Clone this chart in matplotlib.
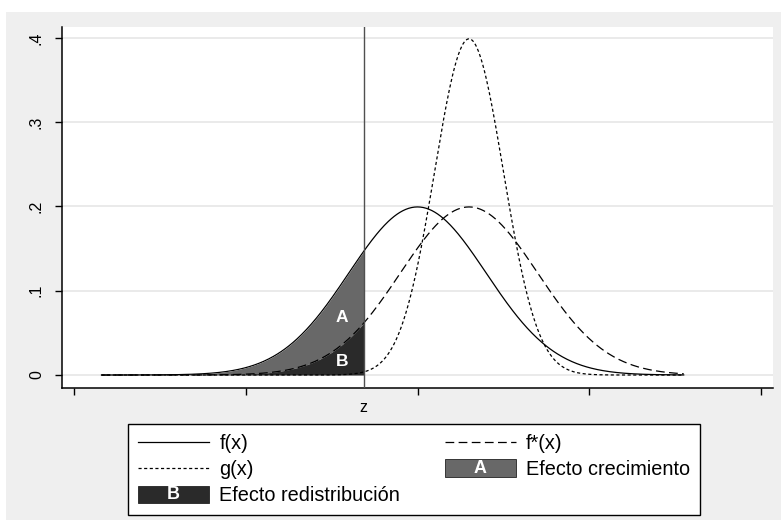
import numpy as np
import matplotlib
matplotlib.use('Agg')
import matplotlib.pyplot as plt
from matplotlib.patches import Rectangle
from matplotlib.text import Text
from matplotlib.lines import Line2D
from matplotlib.legend_handler import HandlerPatch

plt.rcParams['font.family'] = ['Liberation Sans', 'DejaVu Sans']

# ----------- data -----------------------------------------------------------
# normal densities: mean, std.dev.
mu_f, sd_f = 0.0, 2.0        # f(x)
mu_fs, sd_fs = 1.5, 2.0      # f*(x)
mu_g, sd_g = 1.5, 1.0        # g(x)
x_min, x_max = -9.2, 7.75    # plotted range of the curves
z = -1.57                    # poverty line z

x_ticks = [-10, -5, 0, 5, 10]
y_ticks = [0, 0.1, 0.2, 0.3, 0.4]
y_labels = ['0', '.1', '.2', '.3', '.4']

lab_f, lab_fs, lab_g = 'f(x)', 'f*(x)', 'g(x)'
lab_A, lab_B = 'Efecto crecimiento', 'Efecto redistribución'

# colours
c_bg = '#efefef'
c_A = '#686868'
c_B = '#2a2a2a'
c_grid = '#e6e6e6'


def dens(x, mu, sd):
    return np.exp(-0.5*((x - mu)/sd)**2)/(sd*np.sqrt(2*np.pi))


xs = np.linspace(x_min, x_max, 600)
f = dens(xs, mu_f, sd_f)
fs = dens(xs, mu_fs, sd_fs)
g = dens(xs, mu_g, sd_g)
left = xs <= z
xl = np.append(xs[left], z)
fl = np.append(f[left], dens(z, mu_f, sd_f))
fsl = np.append(fs[left], dens(z, mu_fs, sd_fs))


class HandlerLetter(HandlerPatch):
    def __init__(self, letter):
        super().__init__()
        self.letter = letter

    def create_artists(self, legend, orig_handle, xdescent, ydescent,
                       width, height, fontsize, trans):
        p = Rectangle((-xdescent, -ydescent - 1), width, height + 2,
                      facecolor=orig_handle.get_facecolor(),
                      edgecolor='#222222', lw=0.6, transform=trans)
        t = Text(-xdescent + width/2, -ydescent + height/2 - 0.5, self.letter,
                 color='white', ha='center', va='center',
                 fontsize=fontsize*0.9, fontweight='bold', transform=trans)
        return [p, t]


# -------------- Plot Figure -------------------------------------------------
fig = plt.figure(figsize=(7.81, 5.23), dpi=100)
fig.patch.set_facecolor('white')
fig.patches.append(Rectangle((6/781, 3/523), 775/781, 508/523,
                             transform=fig.transFigure, facecolor=c_bg,
                             edgecolor='none', zorder=-10))

ax = fig.add_axes([62/781, 135/523, 711/781, 361/523])
ax.set_facecolor('white')

ls_fs = (0, (7, 3.5))
ls_g = (0, (2.5, 2.0))
lw = 0.9

ax.plot(xs, f, color='black', lw=lw, zorder=2)
ax.fill_between(xl, fsl, fl, color=c_A, lw=0, zorder=3)
ax.fill_between(xl, 0, fsl, color=c_B, lw=0, zorder=3)
ax.plot(xs, fs, color='black', lw=lw, ls=ls_fs, zorder=4)
ax.plot(xs, g, color='black', lw=lw, ls=ls_g, zorder=4)
ax.axvline(z, color='#505050', lw=1.0, zorder=5)

ax.text(-2.2, 0.068, 'A', color='white', fontsize=12.5, fontweight='bold',
        ha='center', va='center', zorder=6)
ax.text(-2.2, 0.016, 'B', color='white', fontsize=12.5, fontweight='bold',
        ha='center', va='center', zorder=6)

ax.set_xlim(-10.35, 10.35)
ax.set_ylim(-0.0154, 0.413)
ax.set_yticks(y_ticks)
ax.set_yticklabels(y_labels, rotation=90, va='center', fontsize=11.5)
ax.set_xticks(x_ticks)
ax.set_xticklabels([])
ax.set_xticks([z], labels=['z'], minor=True)
ax.tick_params(axis='x', which='minor', length=0, pad=9, labelsize=11.5)
ax.tick_params(axis='both', which='major', length=5, width=1.0)
ax.tick_params(axis='y', pad=8)
ax.yaxis.grid(True, color=c_grid, lw=1.2)
ax.set_axisbelow(True)
for sp in ['top', 'right']:
    ax.spines[sp].set_visible(False)
for sp in ['left', 'bottom']:
    ax.spines[sp].set_linewidth(1.1)

# legend
h_f = Line2D([], [], color='black', lw=lw)
h_fs = Line2D([], [], color='black', lw=lw, ls=ls_fs)
h_g = Line2D([], [], color='black', lw=lw, ls=ls_g)
h_A = Rectangle((0, 0), 1, 1, facecolor=c_A)
h_B = Rectangle((0, 0), 1, 1, facecolor=c_B)
leg = fig.legend([h_f, h_g, h_B, h_fs, h_A],
                 [lab_f, lab_g, lab_B, lab_fs, lab_A],
                 handler_map={h_A: HandlerLetter('A'), h_B: HandlerLetter('B')},
                 loc='upper left', bbox_to_anchor=(128/781, 11/523, 572/781, 88/523),
                 mode='expand', ncol=2, fontsize=14.3, frameon=True, fancybox=False,
                 edgecolor='black', framealpha=1, handlelength=3.6, handleheight=0.75,
                 labelspacing=0.36, handletextpad=0.5, borderpad=0.5,
                 borderaxespad=0)
leg.get_frame().set_linewidth(1.0)

fig.savefig('out.png', dpi=100)
